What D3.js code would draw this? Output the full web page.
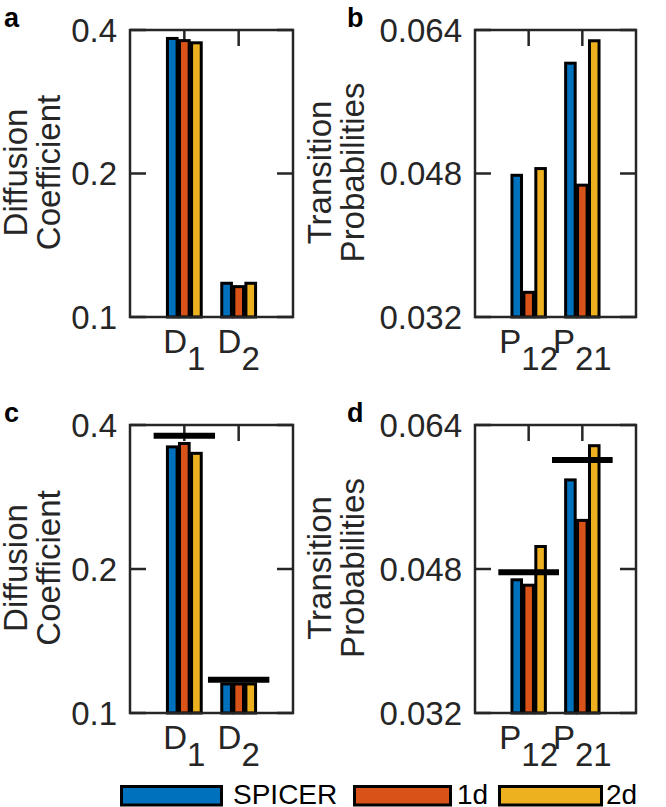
<!DOCTYPE html>
<html><head><meta charset="utf-8">
<script src="https://cdn.jsdelivr.net/npm/d3@7"></script>
<style>body{margin:0;background:#fff} svg{display:block}</style>
</head><body>
<svg id="chart" width="666" height="807"></svg>
<script>
// ---------- data ----------
const seriesNames  = ["SPICER", "1d", "2d"];
const seriesColors = ["#0072BD", "#D95319", "#EDB120"];
const diffCats  = ["D_1", "D_2"];
const probCats  = ["P_12", "P_21"];
const diffTicks = [0.1, 0.2, 0.4];
const probTicks = [0.032, 0.048, 0.064];
const diffTickLabels = ["0.1", "0.2", "0.4"];
const probTickLabels = ["0.032", "0.048", "0.064"];

// panel a
const aSpicer = [0.384, 0.1177];
const a1d     = [0.380, 0.1158];
const a2d     = [0.376, 0.1177];
// panel b
const bSpicer = [0.0478, 0.0603];
const b1d     = [0.03475, 0.0467];
const b2d     = [0.04855, 0.0628];
// panel c
const cSpicer = [0.360, 0.1150];
const c1d     = [0.366, 0.1150];
const c2d     = [0.349, 0.1150];
const cTrue   = [0.380, 0.1174];
// panel d
const dSpicer = [0.0468, 0.0579];
const d1d     = [0.0462, 0.0534];
const d2d     = [0.0505, 0.0617];
const dTrue   = [0.04765, 0.0601];

// ---------- drawing ----------
const svg = d3.select("#chart");
const FONT = "'Liberation Sans', Arial, Helvetica, sans-serif";
const AX = "#262626";
const FS = 33;

function panel(o) {
  const {x0, x1, y0, y1} = o.box;
  const x = d3.scaleLinear().domain([0, 3]).range([x0, x1]);
  const y = (o.log ? d3.scaleLog() : d3.scaleLinear()).domain(o.domain).range([y1, y0]);
  const g = svg.append("g");
  const tickLen = 16;

  // ticks (below data)
  const tg = g.append("g").attr("stroke", AX).attr("stroke-width", 2.5);
  o.ticks.forEach(t => {
    tg.append("line").attr("x1", x0).attr("x2", x0 + tickLen).attr("y1", y(t)).attr("y2", y(t));
    tg.append("line").attr("x1", x1).attr("x2", x1 - tickLen).attr("y1", y(t)).attr("y2", y(t));
  });
  o.cats.forEach((c, i) => {
    tg.append("line").attr("x1", x(i + 1)).attr("x2", x(i + 1)).attr("y1", y0).attr("y2", y0 + tickLen);
    tg.append("line").attr("x1", x(i + 1)).attr("x2", x(i + 1)).attr("y1", y1).attr("y2", y1 - tickLen);
  });

  // bars
  const pitch = 0.6667 / 3, bw = pitch * 0.8;
  o.series.forEach((vals, j) => {
    g.append("g").selectAll("rect").data(vals).join("rect")
      .attr("x", (d, i) => x(i + 1 + (j - 1) * pitch - bw / 2))
      .attr("width", x(bw) - x(0))
      .attr("y", d => y(d))
      .attr("height", d => y1 - y(d))
      .attr("fill", seriesColors[j])
      .attr("stroke", "#000").attr("stroke-width", 3);
  });

  // true values
  if (o.truth) {
    g.append("g").selectAll("line").data(o.truth).join("line")
      .attr("x1", (d, i) => x(i + 1 - 0.565))
      .attr("x2", (d, i) => x(i + 1 + 0.565))
      .attr("y1", d => y(d)).attr("y2", d => y(d))
      .attr("stroke", "#000").attr("stroke-width", 6);
  }

  // box
  g.append("rect").attr("x", x0).attr("y", y0).attr("width", x1 - x0).attr("height", y1 - y0)
    .attr("fill", "none").attr("stroke", AX).attr("stroke-width", 2.5);

  // y tick labels
  g.append("g").selectAll("text").data(o.ticks).join("text")
    .attr("x", x0 - 13).attr("y", d => y(d)).attr("dy", "0.35em")
    .attr("text-anchor", "end").attr("font-family", FONT).attr("font-size", FS)
    .attr("fill", AX).text((d, i) => o.tickLabels[i]);

  // x category labels with subscripts
  o.cats.forEach((c, i) => {
    const [main, sub] = c.split("_");
    const t = g.append("text").attr("x", x(i + 1)).attr("y", y1 + 36)
      .attr("text-anchor", "middle").attr("font-family", FONT).attr("font-size", FS).attr("fill", AX);
    t.append("tspan").text(main);
    t.append("tspan").attr("dy", 17).text(sub);
  });

  // y axis label (two lines)
  const cy = (y0 + y1) / 2 - 1;
  o.ylabel.forEach((line, k) => {
    g.append("text").attr("transform", `translate(${o.ylabelX[k]},${cy}) rotate(-90)`)
      .attr("text-anchor", "middle").attr("font-family", FONT).attr("font-size", FS)
      .attr("fill", AX).text(line);
  });

  // panel letter
  g.append("text").attr("x", o.letterX).attr("y", y0 - 3)
    .attr("font-family", FONT).attr("font-size", 27).attr("font-weight", "bold")
    .attr("fill", "#000").text(o.letter);
}

panel({letter: "a", letterX: 4, box: {x0: 130, x1: 293, y0: 30, y1: 317}, log: true,
  domain: [0.1, 0.4], ticks: diffTicks, tickLabels: diffTickLabels, cats: diffCats,
  series: [aSpicer, a1d, a2d], ylabel: ["Diffusion", "Coefficient"], ylabelX: [27, 60]});
panel({letter: "b", letterX: 347, box: {x0: 475, x1: 636, y0: 30, y1: 317}, log: false,
  domain: [0.032, 0.064], ticks: probTicks, tickLabels: probTickLabels, cats: probCats,
  series: [bSpicer, b1d, b2d], ylabel: ["Transition", "Probabilities"], ylabelX: [331, 364]});
panel({letter: "c", letterX: 4, box: {x0: 130, x1: 293, y0: 425, y1: 713}, log: true,
  domain: [0.1, 0.4], ticks: diffTicks, tickLabels: diffTickLabels, cats: diffCats,
  series: [cSpicer, c1d, c2d], truth: cTrue, ylabel: ["Diffusion", "Coefficient"], ylabelX: [27, 60]});
panel({letter: "d", letterX: 347, box: {x0: 475, x1: 636, y0: 425, y1: 713}, log: false,
  domain: [0.032, 0.064], ticks: probTicks, tickLabels: probTickLabels, cats: probCats,
  series: [dSpicer, d1d, d2d], truth: dTrue, ylabel: ["Transition", "Probabilities"], ylabelX: [331, 364]});

// legend
const legendPatchX = [120, 353, 498];
const legendPatchW = [103, 99, 105];
const legendTextX  = [233, 457, 606];
const lg = svg.append("g");
seriesNames.forEach((name, j) => {
  lg.append("rect").attr("x", legendPatchX[j] + 1.5).attr("y", 786.5)
    .attr("width", legendPatchW[j] - 3).attr("height", 18.5)
    .attr("fill", seriesColors[j]).attr("stroke", "#000").attr("stroke-width", 3);
  lg.append("text").attr("x", legendTextX[j]).attr("y", 804)
    .attr("font-family", FONT).attr("font-size", 28).attr("fill", "#000").text(name);
});
</script>
</body></html>
